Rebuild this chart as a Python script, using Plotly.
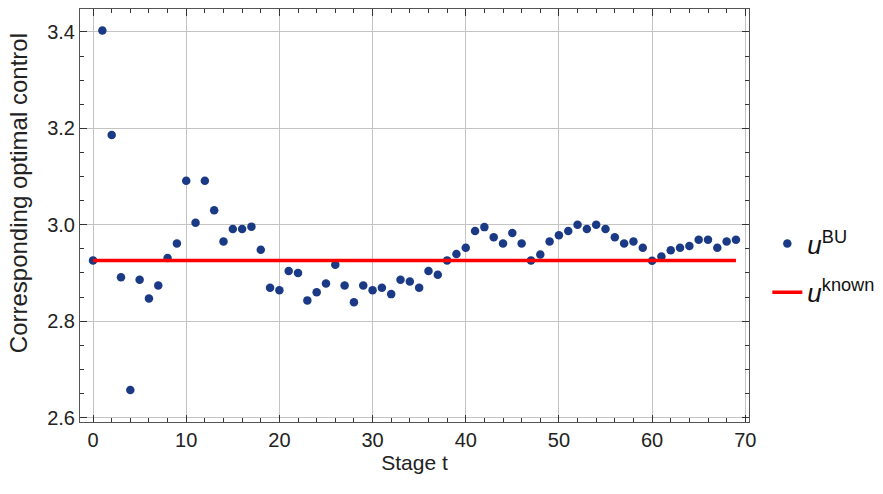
import plotly.graph_objects as go

stage = list(range(70))
u_bu = [2.926, 3.403, 3.186, 2.891, 2.657, 2.886, 2.847, 2.874, 2.931, 2.961,
        3.091, 3.004, 3.091, 3.030, 2.965, 2.991, 2.991, 2.996, 2.948, 2.869,
        2.864, 2.904, 2.900, 2.843, 2.860, 2.878, 2.917, 2.874, 2.839, 2.874,
        2.864, 2.869, 2.856, 2.886, 2.882, 2.869, 2.904, 2.896, 2.926, 2.939,
        2.952, 2.987, 2.995, 2.974, 2.961, 2.983, 2.961, 2.926, 2.938, 2.965,
        2.978, 2.987, 3.000, 2.991, 3.000, 2.991, 2.974, 2.961, 2.965, 2.952,
        2.925, 2.934, 2.947, 2.952, 2.956, 2.969, 2.969, 2.952, 2.965, 2.969]
u_known = 2.926
x_ticks = [0, 10, 20, 30, 40, 50, 60, 70]
y_ticks = [2.6, 2.8, 3.0, 3.2, 3.4]

FONT = "Liberation Sans, Arial, sans-serif"

fig = go.Figure()
fig.add_trace(go.Scatter(
    x=stage, y=u_bu, mode="markers", name="<i>u</i><sup>BU</sup>",
    marker=dict(color="#1b3a85", size=8.5, line=dict(width=0)),
    legendgroup="a"))
fig.add_trace(go.Scatter(
    x=[stage[0], stage[-1]], y=[u_known, u_known], mode="lines",
    name="<i>u</i><sup>known</sup>",
    line=dict(color="#ff0000", width=3.5), legendgroup="b"))

axis_common = dict(
    showline=True, linecolor="#555555", linewidth=1, mirror="allticks",
    ticks="inside", ticklen=7, tickcolor="#333333", tickwidth=1,
    showgrid=True, gridcolor="#c4c4c4", gridwidth=1, zeroline=False,
    tickfont=dict(family=FONT, size=20, color="#222222"),
)

fig.update_xaxes(
    range=[-1.4, 70.4], tickvals=x_ticks,
    minor=dict(tickvals=list(range(0, 71, 2)), ticks="inside", ticklen=4,
               tickcolor="#333333", showgrid=False),
    title=dict(text="Stage t", font=dict(family=FONT, size=21, color="#222222"), standoff=4),
    **axis_common)
fig.update_yaxes(
    range=[2.5907, 3.4475], tickvals=y_ticks, tickformat=".1f",
    minor=dict(tickvals=[2.6 + 0.05 * i for i in range(17)], ticks="inside", ticklen=4,
               tickcolor="#333333", showgrid=False),
    **axis_common)

fig.add_annotation(
    text="Corresponding optimal control", textangle=-90,
    xref="paper", yref="paper", x=-0.0927, y=0.554,
    xanchor="center", yanchor="middle", showarrow=False,
    font=dict(family=FONT, size=24, color="#222222"))

fig.update_layout(
    width=883, height=494,
    margin=dict(l=80, r=134, t=9, b=72),
    plot_bgcolor="white", paper_bgcolor="white",
    legend=dict(xref="container", yref="container", x=0.869, xanchor="left",
                y=0.4575, yanchor="middle",
                font=dict(family=FONT, size=26, color="#111111"),
                tracegroupgap=12, bgcolor="rgba(0,0,0,0)"),
    showlegend=True,
)

fig.write_html("out.html")
